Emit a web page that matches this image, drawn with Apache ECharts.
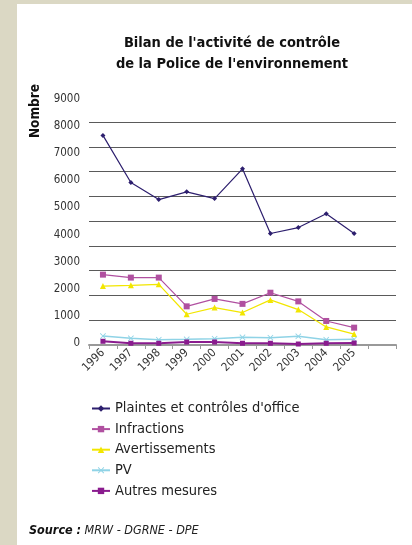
<!DOCTYPE html>
<html>
<head>
<meta charset="utf-8">
<script src="https://cdn.jsdelivr.net/npm/echarts@6/dist/echarts.min.js"></script>
<style>
html,body{margin:0;padding:0;background:#dbd8c4;}
#panel{position:absolute;left:17px;top:4px;width:395px;height:541px;background:#fff;}
#chart{position:absolute;left:0;top:0;width:412px;height:545px;}
</style>
</head>
<body>
<div id="panel"></div>
<div id="chart"></div>
<script>
var categories = ['1996','1997','1998','1999','2000','2001','2002','2003','2004','2005',''];
var yTickLabels = ['0','1000','2000','3000','4000','5000','6000','7000','8000','9000'];
var plaintes = [8460, 6560, 5870, 6180, 5910, 7110, 4500, 4740, 5300, 4500];
var infractions = [2840, 2720, 2720, 1560, 1860, 1660, 2110, 1760, 970, 700];
var avertissements = [2380, 2410, 2450, 1240, 1510, 1310, 1820, 1430, 730, 440];
var pv = [360, 270, 215, 230, 255, 310, 295, 350, 215, 230];
var autres = [150, 70, 70, 120, 120, 70, 70, 40, 70, 80];

var FONT = '"Liberation Sans Narrow", "DejaVu Sans Condensed", sans-serif';
var xMark = 'path://M0,1L1,0L5,4L9,0L10,1L6,5L10,9L9,10L5,6L1,10L0,9L4,5Z';

function mkSeries(name, data, color, symbol, size, width) {
  return {
    name: name, type: 'line', data: data, xAxisIndex: 0, yAxisIndex: 0,
    symbol: symbol, symbolSize: size, showSymbol: true,
    lineStyle: {color: color, width: width || 1.2},
    itemStyle: {color: color},
    emphasis: {disabled: true}, animation: false
  };
}

var chart = echarts.init(document.getElementById('chart'));
chart.setOption({
  animation: false,
  textStyle: {fontFamily: FONT},
  graphic: [
    {
      type: 'text', x: 232, y: 33,
      style: {
        text: "Bilan de l'activité de contrôle\nde la Police de l'environnement",
        fontFamily: FONT, fontSize: 14.5, fontWeight: 'bold', fill: '#111', lineHeight: 21,
        align: 'center', verticalAlign: 'top'
      }
    },
    {
      type: 'text', x: 35, y: 111, rotation: Math.PI / 2,
      style: {
        text: 'Nombre', fontFamily: FONT, fontSize: 13.5, fontWeight: 'bold', fill: '#111',
        align: 'center', verticalAlign: 'middle'
      }
    },
    {
      type: 'text', left: 29, top: 524,
      style: {
        rich: {
          b: {fontFamily: FONT, fontSize: 12.5, fontWeight: 'bold', fontStyle: 'italic', fill: '#111'},
          i: {fontFamily: FONT, fontSize: 12.5, fontStyle: 'italic', fill: '#222'}
        },
        text: '{b|Source :} {i|MRW - DGRNE - DPE}'
      }
    }
  ],
  grid: [
    {left: 89, right: 16, top: 122, bottom: 200, containLabel: false},
    {left: 89, right: 16, top: 99, bottom: 202, containLabel: false}
  ],
  xAxis: [
    {
      gridIndex: 0, type: 'category', data: categories, boundaryGap: true,
      axisLine: {lineStyle: {color: '#999', width: 2}},
      axisTick: {show: true, interval: 0, length: 4, lineStyle: {color: '#999'}},
      axisLabel: {interval: 0, rotate: 45, fontFamily: FONT, fontSize: 11.5, color: '#333', margin: 6},
      splitLine: {show: false}
    },
    {gridIndex: 1, type: 'category', data: categories, show: false}
  ],
  yAxis: [
    {
      gridIndex: 0, type: 'value', min: 0, max: 9000, interval: 1000,
      axisLine: {show: false}, axisTick: {show: false}, axisLabel: {show: false},
      splitLine: {lineStyle: {color: '#5a5a5a', width: 1}}
    },
    {
      gridIndex: 1, type: 'value', min: 0, max: 9000, interval: 1000,
      axisLine: {show: false}, axisTick: {show: false}, splitLine: {show: false},
      axisLabel: {
        fontFamily: FONT, fontSize: 11.5, color: '#333', margin: 9,
        formatter: function (v) { return yTickLabels[Math.round(v / 1000)]; }
      }
    }
  ],
  legend: {
    orient: 'vertical', left: 86, top: 396,
    itemWidth: 18, itemHeight: 8, itemGap: 5.6,
    textStyle: {fontFamily: FONT, fontSize: 14.5, color: '#222'},
    data: ['Plaintes et contrôles d\'office', 'Infractions', 'Avertissements', 'PV', 'Autres mesures']
  },
  series: [
    mkSeries('Plaintes et contrôles d\'office', plaintes, '#2d1f6e', 'diamond', 5, 1.2),
    mkSeries('Infractions', infractions, '#b050a0', 'rect', 6, 1.2),
    mkSeries('Avertissements', avertissements, '#f2e600', 'triangle', 6, 1.2),
    mkSeries('PV', pv, '#8fd3e6', xMark, 6, 1.5),
    mkSeries('Autres mesures', autres, '#8a1b8e', 'rect', 5, 2)
  ]
});
</script>
</body>
</html>
